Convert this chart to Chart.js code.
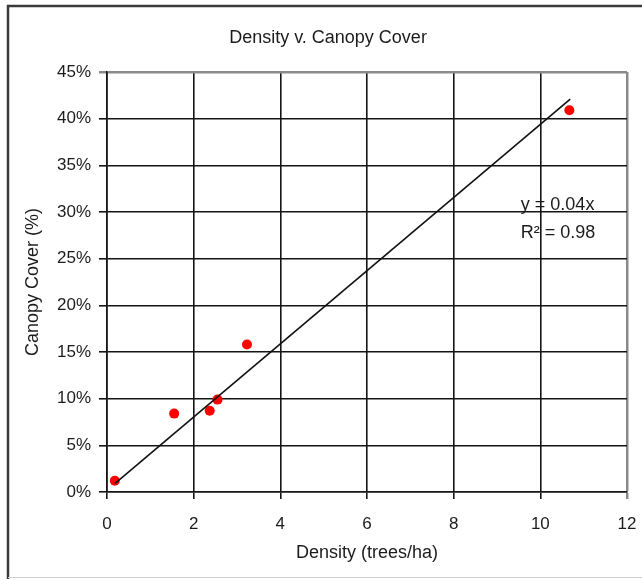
<!DOCTYPE html>
<html>
<head>
<meta charset="utf-8">
<script src="https://cdn.jsdelivr.net/npm/chart.js@4/dist/chart.umd.min.js"></script>
<style>
  body { margin: 0; background: #fff; }
  #wrap { width: 642px; height: 579px; }
</style>
</head>
<body>
<div id="wrap"><canvas id="chart" width="642" height="579"></canvas></div>
<script>
// Density (trees/ha) vs canopy cover (%)
const densityX = [0.18, 1.55, 2.37, 2.55, 3.23, 10.67];
const coverY = [1.2, 8.4, 8.7, 9.9, 15.8, 40.9];

// fitted trend line as drawn (end points)
const trendX = [0.18, 10.69];
const trendY = [0.9, 42.1];

const xTicks = [0, 2, 4, 6, 8, 10, 12];
const yTicks = [0, 5, 10, 15, 20, 25, 30, 35, 40, 45];
const eqText = ['y = 0.04x', 'R\u00b2 = 0.98'];

const FONT = '"Liberation Sans", Arial, sans-serif';
const TXT = '#1c1c1c';

// frame, title and trend equation
const decor = {
  id: 'decor',
  beforeDraw(chart) {
    const c = chart.ctx;
    c.save();
    c.fillStyle = '#fff';
    c.fillRect(0, 0, chart.width, chart.height);
    c.strokeStyle = '#3a3a3a';
    c.lineWidth = 2.5;
    c.beginPath();
    c.moveTo(8, chart.height);
    c.lineTo(8, 6);
    c.lineTo(chart.width, 6);
    c.stroke();
    c.strokeStyle = '#d0d0d0';
    c.lineWidth = 1;
    c.beginPath();
    c.moveTo(8, 577.5);
    c.lineTo(chart.width, 577.5);
    c.stroke();
    c.restore();
  },
  afterDraw(chart) {
    const c = chart.ctx;
    const xs = chart.scales.x, ys = chart.scales.y;
    c.save();
    c.fillStyle = TXT;
    c.font = '18px ' + FONT;
    c.textAlign = 'center';
    c.textBaseline = 'middle';
    c.fillText('Density v. Canopy Cover', 328, 38);
    c.textAlign = 'left';
    c.fillText(eqText[0], xs.getPixelForValue(9.55), ys.getPixelForValue(30.75));
    c.fillText(eqText[1], xs.getPixelForValue(9.55), ys.getPixelForValue(27.75));
    c.restore();
  }
};

const edgeGray = '#8a8a8a';

new Chart(document.getElementById('chart'), {
  type: 'scatter',
  data: {
    datasets: [
      {
        type: 'line',
        data: trendX.map((x, i) => ({ x: x, y: trendY[i] })),
        borderColor: '#111',
        borderWidth: 1.6,
        pointRadius: 0,
        fill: false
      },
      {
        data: densityX.map((x, i) => ({ x: x, y: coverY[i] })),
        backgroundColor: '#ff0000',
        borderWidth: 0,
        pointRadius: 5
      }
    ]
  },
  options: {
    responsive: false,
    animation: false,
    layout: { padding: { top: 72, right: 15, left: 0, bottom: 0 } },
    plugins: { legend: { display: false }, tooltip: { enabled: false }, title: { display: false } },
    scales: {
      x: {
        type: 'linear',
        min: 0, max: 12,
        afterFit(s) { s.height = 87; s.paddingLeft = 0; s.paddingRight = 0; },
        afterBuildTicks(s) { s.ticks = xTicks.map(v => ({ value: v })); },
        grid: {
          color: ctx => ctx.tick && ctx.tick.value === 12 ? edgeGray : '#151515',
          lineWidth: ctx => ctx.tick && ctx.tick.value === 12 ? 2.5 : 1.6,
          tickLength: 7
        },
        border: { color: '#151515', width: 1.6 },
        ticks: { color: TXT, font: { family: FONT, size: 17 }, padding: 15 },
        title: {
          display: true, text: 'Density (trees/ha)', color: TXT,
          font: { family: FONT, size: 18 }, padding: { top: 0, bottom: 15 }
        }
      },
      y: {
        min: 0, max: 45,
        afterFit(s) { s.width = 107; s.paddingTop = 0; s.paddingBottom = 0; },
        afterBuildTicks(s) { s.ticks = yTicks.map(v => ({ value: v })); },
        grid: {
          color: ctx => ctx.tick && ctx.tick.value === 45 ? edgeGray : '#151515',
          lineWidth: ctx => ctx.tick && ctx.tick.value === 45 ? 2.5 : 1.6,
          tickLength: 8
        },
        border: { color: '#151515', width: 1.6 },
        ticks: { color: TXT, font: { family: FONT, size: 17 }, padding: 8, callback: v => v + '%' },
        title: {
          display: true, text: 'Canopy Cover (%)', color: TXT,
          font: { family: FONT, size: 18 }, padding: { top: 22, bottom: 0 }
        }
      }
    }
  },
  plugins: [decor]
});
</script>
</body>
</html>
